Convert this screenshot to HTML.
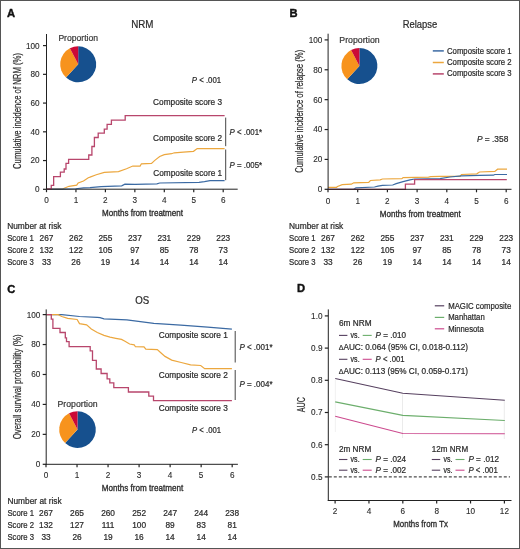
<!DOCTYPE html>
<html><head><meta charset="utf-8"><style>
html,body{margin:0;padding:0;background:#fff;}
#fig{position:relative;width:520px;height:549px;box-sizing:border-box;border:1px solid #555;overflow:hidden;background:#fff;}
svg{position:absolute;left:-1px;top:-1px;will-change:transform;}
text{font-family:"Liberation Sans", sans-serif;}
</style></head><body>
<div id="fig"><svg width="520" height="549" viewBox="0 0 520 549">
<text x="6.90" y="17.00" font-size="11.2" font-weight="bold" fill="#111" stroke="#111" stroke-width="0.4">A</text>
<text x="142.35" y="28.10" font-size="10.4" text-anchor="middle" textLength="22.3" lengthAdjust="spacingAndGlyphs" fill="#2b2b2b" stroke="#2b2b2b" stroke-width="0.22">NRM</text>
<line x1="43.00" y1="189.30" x2="46.50" y2="189.30" stroke="#222" stroke-width="1.2"/>
<text x="39.60" y="192.20" font-size="8.2" text-anchor="end" fill="#2b2b2b" stroke="#2b2b2b" stroke-width="0.12">0</text>
<line x1="43.00" y1="160.56" x2="46.50" y2="160.56" stroke="#222" stroke-width="1.2"/>
<text x="39.60" y="163.46" font-size="8.2" text-anchor="end" fill="#2b2b2b" stroke="#2b2b2b" stroke-width="0.12">20</text>
<line x1="43.00" y1="131.82" x2="46.50" y2="131.82" stroke="#222" stroke-width="1.2"/>
<text x="39.60" y="134.72" font-size="8.2" text-anchor="end" fill="#2b2b2b" stroke="#2b2b2b" stroke-width="0.12">40</text>
<line x1="43.00" y1="103.08" x2="46.50" y2="103.08" stroke="#222" stroke-width="1.2"/>
<text x="39.60" y="105.98" font-size="8.2" text-anchor="end" fill="#2b2b2b" stroke="#2b2b2b" stroke-width="0.12">60</text>
<line x1="43.00" y1="74.34" x2="46.50" y2="74.34" stroke="#222" stroke-width="1.2"/>
<text x="39.60" y="77.24" font-size="8.2" text-anchor="end" fill="#2b2b2b" stroke="#2b2b2b" stroke-width="0.12">80</text>
<line x1="43.00" y1="45.60" x2="46.50" y2="45.60" stroke="#222" stroke-width="1.2"/>
<text x="39.60" y="48.50" font-size="8.2" text-anchor="end" fill="#2b2b2b" stroke="#2b2b2b" stroke-width="0.12">100</text>
<line x1="46.50" y1="189.20" x2="46.50" y2="192.20" stroke="#222" stroke-width="1.2"/>
<text x="46.50" y="203.10" font-size="8.2" text-anchor="middle" fill="#2b2b2b" stroke="#2b2b2b" stroke-width="0.12">0</text>
<line x1="75.95" y1="189.20" x2="75.95" y2="192.20" stroke="#222" stroke-width="1.2"/>
<text x="75.95" y="203.10" font-size="8.2" text-anchor="middle" fill="#2b2b2b" stroke="#2b2b2b" stroke-width="0.12">1</text>
<line x1="105.40" y1="189.20" x2="105.40" y2="192.20" stroke="#222" stroke-width="1.2"/>
<text x="105.40" y="203.10" font-size="8.2" text-anchor="middle" fill="#2b2b2b" stroke="#2b2b2b" stroke-width="0.12">2</text>
<line x1="134.85" y1="189.20" x2="134.85" y2="192.20" stroke="#222" stroke-width="1.2"/>
<text x="134.85" y="203.10" font-size="8.2" text-anchor="middle" fill="#2b2b2b" stroke="#2b2b2b" stroke-width="0.12">3</text>
<line x1="164.30" y1="189.20" x2="164.30" y2="192.20" stroke="#222" stroke-width="1.2"/>
<text x="164.30" y="203.10" font-size="8.2" text-anchor="middle" fill="#2b2b2b" stroke="#2b2b2b" stroke-width="0.12">4</text>
<line x1="193.75" y1="189.20" x2="193.75" y2="192.20" stroke="#222" stroke-width="1.2"/>
<text x="193.75" y="203.10" font-size="8.2" text-anchor="middle" fill="#2b2b2b" stroke="#2b2b2b" stroke-width="0.12">5</text>
<line x1="223.20" y1="189.20" x2="223.20" y2="192.20" stroke="#222" stroke-width="1.2"/>
<text x="223.20" y="203.10" font-size="8.2" text-anchor="middle" fill="#2b2b2b" stroke="#2b2b2b" stroke-width="0.12">6</text>
<text transform="translate(21.30,111.00) rotate(-90)" x="0" y="0" font-size="10.3" text-anchor="middle" textLength="116" lengthAdjust="spacingAndGlyphs" fill="#2b2b2b" stroke="#2b2b2b" stroke-width="0.22">Cumulative incidence of NRM (%)</text>
<text x="102.00" y="215.90" font-size="9.9" textLength="81.0" lengthAdjust="spacingAndGlyphs" fill="#2b2b2b" stroke="#2b2b2b" stroke-width="0.35">Months from treatment</text>
<text x="58.40" y="41.00" font-size="8.8" textLength="39.6" lengthAdjust="spacingAndGlyphs" fill="#383838" stroke="#383838" stroke-width="0.22">Proportion</text>
<path d="M78.20,64.30 L78.20,46.30 A18,18 0 1 1 66.04,77.57 Z" fill="#16508e"/>
<path d="M78.20,64.30 L66.04,77.57 A18,18 0 0 1 69.89,48.33 Z" fill="#f7931d"/>
<path d="M78.20,64.30 L69.89,48.33 A18,18 0 0 1 78.20,46.30 Z" fill="#cc0a36"/>
<path d="M46.50,189.20 L62.30,189.20 L64.20,188.30 L69.00,186.30 L76.70,185.20 L78.20,183.00 L83.50,181.00 L88.30,177.70 L90.00,177.10 L96.30,174.70 L104.30,172.40 L118.50,171.60 L126.50,168.70 L132.80,166.00 L140.10,166.10 L141.40,163.80 L151.50,163.40 L155.10,160.10 L159.70,156.50 L164.30,154.60 L171.60,153.70 L174.30,152.80 L183.40,152.10 L193.50,151.30 L197.20,148.60 L224.60,148.60" fill="none" stroke="#eca73e" stroke-width="1.2" stroke-linejoin="miter"/>
<path d="M46.50,189.20 L62.00,189.20 L75.80,188.75 L83.50,187.80 L90.00,187.70 L101.10,186.60 L121.70,185.80 L124.90,184.20 L135.00,184.30 L156.90,183.90 L159.70,183.00 L199.00,182.40 L204.50,181.70 L210.00,180.60 L224.60,180.60" fill="none" stroke="#3b6aa3" stroke-width="1.2" stroke-linejoin="miter"/>
<path d="M46.50,189.20 L51.25,189.20 L51.25,185.40 L53.65,185.40 L53.65,176.70 L60.40,176.70 L60.40,172.10 L64.20,172.10 L64.20,169.00 L66.00,169.00 L66.00,163.30 L68.60,163.30 L68.60,159.40 L88.75,159.40 L88.75,155.00 L91.90,155.00 L91.90,146.50 L94.40,146.50 L94.40,137.50 L98.20,137.50 L98.20,133.20 L104.30,133.20 L104.30,129.10 L107.10,129.10 L107.10,124.30 L111.40,124.30 L111.40,120.10 L125.20,120.10 L125.20,115.60 L224.60,115.60" fill="none" stroke="#b8466c" stroke-width="1.3" stroke-linejoin="miter"/>
<text x="191.80" y="82.70" font-size="8.3" textLength="29.3" lengthAdjust="spacingAndGlyphs" fill="#2b2b2b" stroke="#2b2b2b" stroke-width="0.22"><tspan font-style="italic">P</tspan> &lt; .001</text>
<text x="153.10" y="105.30" font-size="8.3" textLength="68.9" lengthAdjust="spacingAndGlyphs" fill="#2b2b2b" stroke="#2b2b2b" stroke-width="0.22">Composite score 3</text>
<text x="153.10" y="140.80" font-size="8.3" textLength="68.9" lengthAdjust="spacingAndGlyphs" fill="#2b2b2b" stroke="#2b2b2b" stroke-width="0.22">Composite score 2</text>
<text x="153.30" y="176.40" font-size="8.3" textLength="68.9" lengthAdjust="spacingAndGlyphs" fill="#2b2b2b" stroke="#2b2b2b" stroke-width="0.22">Composite score 1</text>
<line x1="225.70" y1="117.60" x2="225.70" y2="146.20" stroke="#444" stroke-width="1"/>
<line x1="225.70" y1="149.50" x2="225.70" y2="180.20" stroke="#444" stroke-width="1"/>
<text x="229.60" y="135.20" font-size="8.3" textLength="32.5" lengthAdjust="spacingAndGlyphs" fill="#2b2b2b" stroke="#2b2b2b" stroke-width="0.22"><tspan font-style="italic">P</tspan> &lt; .001*</text>
<text x="229.60" y="167.60" font-size="8.3" textLength="32.5" lengthAdjust="spacingAndGlyphs" fill="#2b2b2b" stroke="#2b2b2b" stroke-width="0.22"><tspan font-style="italic">P</tspan> = .005*</text>
<text x="7.20" y="228.60" font-size="8.3" textLength="54.3" lengthAdjust="spacingAndGlyphs" fill="#2b2b2b" stroke="#2b2b2b" stroke-width="0.22">Number at risk</text>
<text x="7.20" y="240.60" font-size="8.3" textLength="26.6" lengthAdjust="spacingAndGlyphs" fill="#2b2b2b" stroke="#2b2b2b" stroke-width="0.22">Score 1</text>
<text x="46.50" y="240.60" font-size="8.3" text-anchor="middle" fill="#2b2b2b" stroke="#2b2b2b" stroke-width="0.22">267</text>
<text x="75.95" y="240.60" font-size="8.3" text-anchor="middle" fill="#2b2b2b" stroke="#2b2b2b" stroke-width="0.22">262</text>
<text x="105.40" y="240.60" font-size="8.3" text-anchor="middle" fill="#2b2b2b" stroke="#2b2b2b" stroke-width="0.22">255</text>
<text x="134.85" y="240.60" font-size="8.3" text-anchor="middle" fill="#2b2b2b" stroke="#2b2b2b" stroke-width="0.22">237</text>
<text x="164.30" y="240.60" font-size="8.3" text-anchor="middle" fill="#2b2b2b" stroke="#2b2b2b" stroke-width="0.22">231</text>
<text x="193.75" y="240.60" font-size="8.3" text-anchor="middle" fill="#2b2b2b" stroke="#2b2b2b" stroke-width="0.22">229</text>
<text x="223.20" y="240.60" font-size="8.3" text-anchor="middle" fill="#2b2b2b" stroke="#2b2b2b" stroke-width="0.22">223</text>
<text x="7.20" y="252.80" font-size="8.3" textLength="26.6" lengthAdjust="spacingAndGlyphs" fill="#2b2b2b" stroke="#2b2b2b" stroke-width="0.22">Score 2</text>
<text x="46.50" y="252.80" font-size="8.3" text-anchor="middle" fill="#2b2b2b" stroke="#2b2b2b" stroke-width="0.22">132</text>
<text x="75.95" y="252.80" font-size="8.3" text-anchor="middle" fill="#2b2b2b" stroke="#2b2b2b" stroke-width="0.22">122</text>
<text x="105.40" y="252.80" font-size="8.3" text-anchor="middle" fill="#2b2b2b" stroke="#2b2b2b" stroke-width="0.22">105</text>
<text x="134.85" y="252.80" font-size="8.3" text-anchor="middle" fill="#2b2b2b" stroke="#2b2b2b" stroke-width="0.22">97</text>
<text x="164.30" y="252.80" font-size="8.3" text-anchor="middle" fill="#2b2b2b" stroke="#2b2b2b" stroke-width="0.22">85</text>
<text x="193.75" y="252.80" font-size="8.3" text-anchor="middle" fill="#2b2b2b" stroke="#2b2b2b" stroke-width="0.22">78</text>
<text x="223.20" y="252.80" font-size="8.3" text-anchor="middle" fill="#2b2b2b" stroke="#2b2b2b" stroke-width="0.22">73</text>
<text x="7.20" y="264.80" font-size="8.3" textLength="26.6" lengthAdjust="spacingAndGlyphs" fill="#2b2b2b" stroke="#2b2b2b" stroke-width="0.22">Score 3</text>
<text x="46.50" y="264.80" font-size="8.3" text-anchor="middle" fill="#2b2b2b" stroke="#2b2b2b" stroke-width="0.22">33</text>
<text x="75.95" y="264.80" font-size="8.3" text-anchor="middle" fill="#2b2b2b" stroke="#2b2b2b" stroke-width="0.22">26</text>
<text x="105.40" y="264.80" font-size="8.3" text-anchor="middle" fill="#2b2b2b" stroke="#2b2b2b" stroke-width="0.22">19</text>
<text x="134.85" y="264.80" font-size="8.3" text-anchor="middle" fill="#2b2b2b" stroke="#2b2b2b" stroke-width="0.22">14</text>
<text x="164.30" y="264.80" font-size="8.3" text-anchor="middle" fill="#2b2b2b" stroke="#2b2b2b" stroke-width="0.22">14</text>
<text x="193.75" y="264.80" font-size="8.3" text-anchor="middle" fill="#2b2b2b" stroke="#2b2b2b" stroke-width="0.22">14</text>
<text x="223.20" y="264.80" font-size="8.3" text-anchor="middle" fill="#2b2b2b" stroke="#2b2b2b" stroke-width="0.22">14</text>
<text x="289.50" y="16.90" font-size="11.2" font-weight="bold" fill="#111" stroke="#111" stroke-width="0.4">B</text>
<text x="420.00" y="28.20" font-size="10.4" text-anchor="middle" textLength="34.6" lengthAdjust="spacingAndGlyphs" fill="#2b2b2b" stroke="#2b2b2b" stroke-width="0.22">Relapse</text>
<line x1="324.60" y1="189.30" x2="328.10" y2="189.30" stroke="#222" stroke-width="1.2"/>
<text x="322.30" y="192.20" font-size="8.2" text-anchor="end" fill="#2b2b2b" stroke="#2b2b2b" stroke-width="0.12">0</text>
<line x1="324.60" y1="159.42" x2="328.10" y2="159.42" stroke="#222" stroke-width="1.2"/>
<text x="322.30" y="162.32" font-size="8.2" text-anchor="end" fill="#2b2b2b" stroke="#2b2b2b" stroke-width="0.12">20</text>
<line x1="324.60" y1="129.54" x2="328.10" y2="129.54" stroke="#222" stroke-width="1.2"/>
<text x="322.30" y="132.44" font-size="8.2" text-anchor="end" fill="#2b2b2b" stroke="#2b2b2b" stroke-width="0.12">40</text>
<line x1="324.60" y1="99.66" x2="328.10" y2="99.66" stroke="#222" stroke-width="1.2"/>
<text x="322.30" y="102.56" font-size="8.2" text-anchor="end" fill="#2b2b2b" stroke="#2b2b2b" stroke-width="0.12">60</text>
<line x1="324.60" y1="69.78" x2="328.10" y2="69.78" stroke="#222" stroke-width="1.2"/>
<text x="322.30" y="72.68" font-size="8.2" text-anchor="end" fill="#2b2b2b" stroke="#2b2b2b" stroke-width="0.12">80</text>
<line x1="324.60" y1="39.90" x2="328.10" y2="39.90" stroke="#222" stroke-width="1.2"/>
<text x="322.30" y="42.80" font-size="8.2" text-anchor="end" fill="#2b2b2b" stroke="#2b2b2b" stroke-width="0.12">100</text>
<line x1="328.00" y1="189.30" x2="328.00" y2="192.30" stroke="#222" stroke-width="1.2"/>
<text x="328.00" y="203.60" font-size="8.2" text-anchor="middle" fill="#2b2b2b" stroke="#2b2b2b" stroke-width="0.12">0</text>
<line x1="357.70" y1="189.30" x2="357.70" y2="192.30" stroke="#222" stroke-width="1.2"/>
<text x="357.70" y="203.60" font-size="8.2" text-anchor="middle" fill="#2b2b2b" stroke="#2b2b2b" stroke-width="0.12">1</text>
<line x1="387.40" y1="189.30" x2="387.40" y2="192.30" stroke="#222" stroke-width="1.2"/>
<text x="387.40" y="203.60" font-size="8.2" text-anchor="middle" fill="#2b2b2b" stroke="#2b2b2b" stroke-width="0.12">2</text>
<line x1="417.10" y1="189.30" x2="417.10" y2="192.30" stroke="#222" stroke-width="1.2"/>
<text x="417.10" y="203.60" font-size="8.2" text-anchor="middle" fill="#2b2b2b" stroke="#2b2b2b" stroke-width="0.12">3</text>
<line x1="446.80" y1="189.30" x2="446.80" y2="192.30" stroke="#222" stroke-width="1.2"/>
<text x="446.80" y="203.60" font-size="8.2" text-anchor="middle" fill="#2b2b2b" stroke="#2b2b2b" stroke-width="0.12">4</text>
<line x1="476.50" y1="189.30" x2="476.50" y2="192.30" stroke="#222" stroke-width="1.2"/>
<text x="476.50" y="203.60" font-size="8.2" text-anchor="middle" fill="#2b2b2b" stroke="#2b2b2b" stroke-width="0.12">5</text>
<line x1="506.20" y1="189.30" x2="506.20" y2="192.30" stroke="#222" stroke-width="1.2"/>
<text x="506.20" y="203.60" font-size="8.2" text-anchor="middle" fill="#2b2b2b" stroke="#2b2b2b" stroke-width="0.12">6</text>
<text transform="translate(302.80,111.30) rotate(-90)" x="0" y="0" font-size="10.3" text-anchor="middle" textLength="123" lengthAdjust="spacingAndGlyphs" fill="#2b2b2b" stroke="#2b2b2b" stroke-width="0.22">Cumulative incidence of relapse (%)</text>
<text x="379.80" y="216.60" font-size="9.9" textLength="81.0" lengthAdjust="spacingAndGlyphs" fill="#2b2b2b" stroke="#2b2b2b" stroke-width="0.35">Months from treatment</text>
<text x="339.30" y="42.90" font-size="8.8" textLength="40.4" lengthAdjust="spacingAndGlyphs" fill="#383838" stroke="#383838" stroke-width="0.22">Proportion</text>
<path d="M359.40,66.00 L359.40,48.00 A18,18 0 1 1 347.24,79.27 Z" fill="#16508e"/>
<path d="M359.40,66.00 L347.24,79.27 A18,18 0 0 1 351.09,50.03 Z" fill="#f7931d"/>
<path d="M359.40,66.00 L351.09,50.03 A18,18 0 0 1 359.40,48.00 Z" fill="#cc0a36"/>
<line x1="432.80" y1="50.90" x2="443.80" y2="50.90" stroke="#3b6aa3" stroke-width="1.5"/>
<text x="447.00" y="53.50" font-size="8.2" textLength="64.6" lengthAdjust="spacingAndGlyphs" fill="#2b2b2b" stroke="#2b2b2b" stroke-width="0.22">Composite score 1</text>
<line x1="432.80" y1="62.50" x2="443.80" y2="62.50" stroke="#eca73e" stroke-width="1.5"/>
<text x="447.00" y="64.90" font-size="8.2" textLength="64.6" lengthAdjust="spacingAndGlyphs" fill="#2b2b2b" stroke="#2b2b2b" stroke-width="0.22">Composite score 2</text>
<line x1="432.80" y1="73.90" x2="443.80" y2="73.90" stroke="#b8466c" stroke-width="1.5"/>
<text x="447.00" y="76.20" font-size="8.2" textLength="64.6" lengthAdjust="spacingAndGlyphs" fill="#2b2b2b" stroke="#2b2b2b" stroke-width="0.22">Composite score 3</text>
<text x="476.90" y="142.20" font-size="8.3" textLength="31.4" lengthAdjust="spacingAndGlyphs" fill="#2b2b2b" stroke="#2b2b2b" stroke-width="0.22"><tspan font-style="italic">P</tspan> = .358</text>
<path d="M328.10,187.30 L336.50,187.30 L337.50,186.50 L342.20,184.70 L351.40,184.20 L353.70,182.80 L368.70,182.40 L370.40,180.50 L380.20,179.90 L382.50,179.00 L401.90,178.60 L403.10,177.60 L428.50,177.20 L430.80,176.70 L440.00,176.40 L460.00,176.40 L461.50,174.50 L476.80,173.80 L479.50,172.00 L494.80,171.40 L497.60,169.20 L507.00,169.20" fill="none" stroke="#eca73e" stroke-width="1.2" stroke-linejoin="miter"/>
<path d="M328.10,189.30 L353.70,189.30 L356.00,187.80 L374.50,187.00 L378.00,186.20 L382.50,185.30 L392.70,185.00 L396.20,183.60 L403.10,181.60 L410.00,179.80 L414.60,179.00 L440.00,178.60 L450.00,177.00 L461.50,175.90 L479.50,175.40 L493.40,175.20 L494.80,174.50 L507.00,174.50" fill="none" stroke="#3b6aa3" stroke-width="1.2" stroke-linejoin="miter"/>
<path d="M328.10,189.30 L405.40,189.30 L405.40,184.20 L414.60,184.20 L414.60,179.70 L506.80,179.70" fill="none" stroke="#b8466c" stroke-width="1.3" stroke-linejoin="miter"/>
<text x="289.00" y="228.70" font-size="8.3" textLength="54.3" lengthAdjust="spacingAndGlyphs" fill="#2b2b2b" stroke="#2b2b2b" stroke-width="0.22">Number at risk</text>
<text x="289.00" y="240.80" font-size="8.3" textLength="26.6" lengthAdjust="spacingAndGlyphs" fill="#2b2b2b" stroke="#2b2b2b" stroke-width="0.22">Score 1</text>
<text x="328.00" y="240.80" font-size="8.3" text-anchor="middle" fill="#2b2b2b" stroke="#2b2b2b" stroke-width="0.22">267</text>
<text x="357.70" y="240.80" font-size="8.3" text-anchor="middle" fill="#2b2b2b" stroke="#2b2b2b" stroke-width="0.22">262</text>
<text x="387.40" y="240.80" font-size="8.3" text-anchor="middle" fill="#2b2b2b" stroke="#2b2b2b" stroke-width="0.22">255</text>
<text x="417.10" y="240.80" font-size="8.3" text-anchor="middle" fill="#2b2b2b" stroke="#2b2b2b" stroke-width="0.22">237</text>
<text x="446.80" y="240.80" font-size="8.3" text-anchor="middle" fill="#2b2b2b" stroke="#2b2b2b" stroke-width="0.22">231</text>
<text x="476.50" y="240.80" font-size="8.3" text-anchor="middle" fill="#2b2b2b" stroke="#2b2b2b" stroke-width="0.22">229</text>
<text x="506.20" y="240.80" font-size="8.3" text-anchor="middle" fill="#2b2b2b" stroke="#2b2b2b" stroke-width="0.22">223</text>
<text x="289.00" y="252.90" font-size="8.3" textLength="26.6" lengthAdjust="spacingAndGlyphs" fill="#2b2b2b" stroke="#2b2b2b" stroke-width="0.22">Score 2</text>
<text x="328.00" y="252.90" font-size="8.3" text-anchor="middle" fill="#2b2b2b" stroke="#2b2b2b" stroke-width="0.22">132</text>
<text x="357.70" y="252.90" font-size="8.3" text-anchor="middle" fill="#2b2b2b" stroke="#2b2b2b" stroke-width="0.22">122</text>
<text x="387.40" y="252.90" font-size="8.3" text-anchor="middle" fill="#2b2b2b" stroke="#2b2b2b" stroke-width="0.22">105</text>
<text x="417.10" y="252.90" font-size="8.3" text-anchor="middle" fill="#2b2b2b" stroke="#2b2b2b" stroke-width="0.22">97</text>
<text x="446.80" y="252.90" font-size="8.3" text-anchor="middle" fill="#2b2b2b" stroke="#2b2b2b" stroke-width="0.22">85</text>
<text x="476.50" y="252.90" font-size="8.3" text-anchor="middle" fill="#2b2b2b" stroke="#2b2b2b" stroke-width="0.22">78</text>
<text x="506.20" y="252.90" font-size="8.3" text-anchor="middle" fill="#2b2b2b" stroke="#2b2b2b" stroke-width="0.22">73</text>
<text x="289.00" y="264.70" font-size="8.3" textLength="26.6" lengthAdjust="spacingAndGlyphs" fill="#2b2b2b" stroke="#2b2b2b" stroke-width="0.22">Score 3</text>
<text x="328.00" y="264.70" font-size="8.3" text-anchor="middle" fill="#2b2b2b" stroke="#2b2b2b" stroke-width="0.22">33</text>
<text x="357.70" y="264.70" font-size="8.3" text-anchor="middle" fill="#2b2b2b" stroke="#2b2b2b" stroke-width="0.22">26</text>
<text x="387.40" y="264.70" font-size="8.3" text-anchor="middle" fill="#2b2b2b" stroke="#2b2b2b" stroke-width="0.22">19</text>
<text x="417.10" y="264.70" font-size="8.3" text-anchor="middle" fill="#2b2b2b" stroke="#2b2b2b" stroke-width="0.22">14</text>
<text x="446.80" y="264.70" font-size="8.3" text-anchor="middle" fill="#2b2b2b" stroke="#2b2b2b" stroke-width="0.22">14</text>
<text x="476.50" y="264.70" font-size="8.3" text-anchor="middle" fill="#2b2b2b" stroke="#2b2b2b" stroke-width="0.22">14</text>
<text x="506.20" y="264.70" font-size="8.3" text-anchor="middle" fill="#2b2b2b" stroke="#2b2b2b" stroke-width="0.22">14</text>
<text x="7.20" y="292.50" font-size="11.2" font-weight="bold" fill="#111" stroke="#111" stroke-width="0.4">C</text>
<text x="142.30" y="303.60" font-size="10.4" text-anchor="middle" textLength="14.0" lengthAdjust="spacingAndGlyphs" fill="#2b2b2b" stroke="#2b2b2b" stroke-width="0.22">OS</text>
<line x1="42.70" y1="464.30" x2="46.20" y2="464.30" stroke="#222" stroke-width="1.2"/>
<text x="40.40" y="467.20" font-size="8.2" text-anchor="end" fill="#2b2b2b" stroke="#2b2b2b" stroke-width="0.12">0</text>
<line x1="42.70" y1="434.36" x2="46.20" y2="434.36" stroke="#222" stroke-width="1.2"/>
<text x="40.40" y="437.26" font-size="8.2" text-anchor="end" fill="#2b2b2b" stroke="#2b2b2b" stroke-width="0.12">20</text>
<line x1="42.70" y1="404.42" x2="46.20" y2="404.42" stroke="#222" stroke-width="1.2"/>
<text x="40.40" y="407.32" font-size="8.2" text-anchor="end" fill="#2b2b2b" stroke="#2b2b2b" stroke-width="0.12">40</text>
<line x1="42.70" y1="374.48" x2="46.20" y2="374.48" stroke="#222" stroke-width="1.2"/>
<text x="40.40" y="377.38" font-size="8.2" text-anchor="end" fill="#2b2b2b" stroke="#2b2b2b" stroke-width="0.12">60</text>
<line x1="42.70" y1="344.54" x2="46.20" y2="344.54" stroke="#222" stroke-width="1.2"/>
<text x="40.40" y="347.44" font-size="8.2" text-anchor="end" fill="#2b2b2b" stroke="#2b2b2b" stroke-width="0.12">80</text>
<line x1="42.70" y1="314.60" x2="46.20" y2="314.60" stroke="#222" stroke-width="1.2"/>
<text x="40.40" y="317.50" font-size="8.2" text-anchor="end" fill="#2b2b2b" stroke="#2b2b2b" stroke-width="0.12">100</text>
<line x1="46.00" y1="464.30" x2="46.00" y2="467.30" stroke="#222" stroke-width="1.2"/>
<text x="46.00" y="477.80" font-size="8.2" text-anchor="middle" fill="#2b2b2b" stroke="#2b2b2b" stroke-width="0.12">0</text>
<line x1="77.03" y1="464.30" x2="77.03" y2="467.30" stroke="#222" stroke-width="1.2"/>
<text x="77.03" y="477.80" font-size="8.2" text-anchor="middle" fill="#2b2b2b" stroke="#2b2b2b" stroke-width="0.12">1</text>
<line x1="108.06" y1="464.30" x2="108.06" y2="467.30" stroke="#222" stroke-width="1.2"/>
<text x="108.06" y="477.80" font-size="8.2" text-anchor="middle" fill="#2b2b2b" stroke="#2b2b2b" stroke-width="0.12">2</text>
<line x1="139.09" y1="464.30" x2="139.09" y2="467.30" stroke="#222" stroke-width="1.2"/>
<text x="139.09" y="477.80" font-size="8.2" text-anchor="middle" fill="#2b2b2b" stroke="#2b2b2b" stroke-width="0.12">3</text>
<line x1="170.12" y1="464.30" x2="170.12" y2="467.30" stroke="#222" stroke-width="1.2"/>
<text x="170.12" y="477.80" font-size="8.2" text-anchor="middle" fill="#2b2b2b" stroke="#2b2b2b" stroke-width="0.12">4</text>
<line x1="201.15" y1="464.30" x2="201.15" y2="467.30" stroke="#222" stroke-width="1.2"/>
<text x="201.15" y="477.80" font-size="8.2" text-anchor="middle" fill="#2b2b2b" stroke="#2b2b2b" stroke-width="0.12">5</text>
<line x1="232.18" y1="464.30" x2="232.18" y2="467.30" stroke="#222" stroke-width="1.2"/>
<text x="232.18" y="477.80" font-size="8.2" text-anchor="middle" fill="#2b2b2b" stroke="#2b2b2b" stroke-width="0.12">6</text>
<text transform="translate(20.90,386.80) rotate(-90)" x="0" y="0" font-size="10.3" text-anchor="middle" textLength="104.8" lengthAdjust="spacingAndGlyphs" fill="#2b2b2b" stroke="#2b2b2b" stroke-width="0.22">Overall survival probability (%)</text>
<text x="101.80" y="491.20" font-size="9.9" textLength="81.4" lengthAdjust="spacingAndGlyphs" fill="#2b2b2b" stroke="#2b2b2b" stroke-width="0.35">Months from treatment</text>
<text x="57.50" y="406.90" font-size="8.8" textLength="40.2" lengthAdjust="spacingAndGlyphs" fill="#383838" stroke="#383838" stroke-width="0.22">Proportion</text>
<path d="M77.50,429.60 L77.50,411.30 A18.3,18.3 0 1 1 65.14,443.09 Z" fill="#16508e"/>
<path d="M77.50,429.60 L65.14,443.09 A18.3,18.3 0 0 1 69.05,413.37 Z" fill="#f7931d"/>
<path d="M77.50,429.60 L69.05,413.37 A18.3,18.3 0 0 1 77.50,411.30 Z" fill="#cc0a36"/>
<path d="M46.20,314.60 L61.80,314.60 L79.50,316.50 L97.30,317.30 L100.00,317.70 L104.00,318.90 L126.90,319.80 L153.80,323.30 L180.80,325.20 L207.70,327.10 L231.90,329.20" fill="none" stroke="#3b6aa3" stroke-width="1.2" stroke-linejoin="miter"/>
<path d="M46.20,314.60 L58.20,314.60 L61.80,316.50 L67.70,318.30 L77.10,319.50 L79.50,323.60 L86.60,324.80 L91.30,328.90 L97.30,332.50 L104.00,335.40 L110.00,337.10 L115.80,338.30 L121.50,339.40 L125.00,341.20 L129.60,344.00 L134.20,344.80 L135.40,346.70 L144.00,346.90 L145.80,349.20 L157.30,349.60 L160.80,352.70 L165.00,356.40 L171.70,360.10 L181.20,362.50 L190.60,364.90 L200.70,365.50 L204.70,368.60 L231.90,368.60" fill="none" stroke="#eca73e" stroke-width="1.2" stroke-linejoin="miter"/>
<path d="M46.20,314.60 L51.30,314.60 L51.30,319.20 L52.90,319.20 L52.90,328.30 L60.00,328.30 L60.00,332.50 L65.30,332.50 L65.30,337.80 L66.50,337.80 L66.50,341.70 L69.10,341.70 L69.10,346.70 L90.20,346.70 L90.20,350.80 L92.50,350.80 L92.50,360.30 L96.30,360.30 L96.30,369.00 L101.10,369.00 L101.10,373.50 L107.10,373.50 L107.10,378.80 L109.80,378.80 L109.80,382.90 L113.80,382.90 L113.80,387.60 L128.40,387.60 L128.40,392.00 L148.80,392.00 L148.80,396.10 L153.50,396.10 L153.50,400.60 L231.90,400.60" fill="none" stroke="#b8466c" stroke-width="1.3" stroke-linejoin="miter"/>
<text x="158.70" y="337.80" font-size="8.3" textLength="69.2" lengthAdjust="spacingAndGlyphs" fill="#2b2b2b" stroke="#2b2b2b" stroke-width="0.22">Composite score 1</text>
<text x="158.70" y="377.70" font-size="8.3" textLength="69.2" lengthAdjust="spacingAndGlyphs" fill="#2b2b2b" stroke="#2b2b2b" stroke-width="0.22">Composite score 2</text>
<text x="158.70" y="410.50" font-size="8.3" textLength="69.2" lengthAdjust="spacingAndGlyphs" fill="#2b2b2b" stroke="#2b2b2b" stroke-width="0.22">Composite score 3</text>
<line x1="235.20" y1="331.00" x2="235.20" y2="362.50" stroke="#444" stroke-width="1"/>
<line x1="235.20" y1="370.00" x2="235.20" y2="400.00" stroke="#444" stroke-width="1"/>
<text x="239.40" y="350.00" font-size="8.3" textLength="33.1" lengthAdjust="spacingAndGlyphs" fill="#2b2b2b" stroke="#2b2b2b" stroke-width="0.22"><tspan font-style="italic">P</tspan> &lt; .001*</text>
<text x="239.40" y="387.20" font-size="8.3" textLength="33.1" lengthAdjust="spacingAndGlyphs" fill="#2b2b2b" stroke="#2b2b2b" stroke-width="0.22"><tspan font-style="italic">P</tspan> = .004*</text>
<text x="192.10" y="432.90" font-size="8.3" textLength="28.9" lengthAdjust="spacingAndGlyphs" fill="#2b2b2b" stroke="#2b2b2b" stroke-width="0.22"><tspan font-style="italic">P</tspan> &lt; .001</text>
<text x="7.40" y="503.80" font-size="8.3" textLength="54.3" lengthAdjust="spacingAndGlyphs" fill="#2b2b2b" stroke="#2b2b2b" stroke-width="0.22">Number at risk</text>
<text x="7.40" y="515.80" font-size="8.3" textLength="26.6" lengthAdjust="spacingAndGlyphs" fill="#2b2b2b" stroke="#2b2b2b" stroke-width="0.22">Score 1</text>
<text x="46.00" y="515.80" font-size="8.3" text-anchor="middle" fill="#2b2b2b" stroke="#2b2b2b" stroke-width="0.22">267</text>
<text x="77.03" y="515.80" font-size="8.3" text-anchor="middle" fill="#2b2b2b" stroke="#2b2b2b" stroke-width="0.22">265</text>
<text x="108.06" y="515.80" font-size="8.3" text-anchor="middle" fill="#2b2b2b" stroke="#2b2b2b" stroke-width="0.22">260</text>
<text x="139.09" y="515.80" font-size="8.3" text-anchor="middle" fill="#2b2b2b" stroke="#2b2b2b" stroke-width="0.22">252</text>
<text x="170.12" y="515.80" font-size="8.3" text-anchor="middle" fill="#2b2b2b" stroke="#2b2b2b" stroke-width="0.22">247</text>
<text x="201.15" y="515.80" font-size="8.3" text-anchor="middle" fill="#2b2b2b" stroke="#2b2b2b" stroke-width="0.22">244</text>
<text x="232.18" y="515.80" font-size="8.3" text-anchor="middle" fill="#2b2b2b" stroke="#2b2b2b" stroke-width="0.22">238</text>
<text x="7.40" y="527.70" font-size="8.3" textLength="26.6" lengthAdjust="spacingAndGlyphs" fill="#2b2b2b" stroke="#2b2b2b" stroke-width="0.22">Score 2</text>
<text x="46.00" y="527.70" font-size="8.3" text-anchor="middle" fill="#2b2b2b" stroke="#2b2b2b" stroke-width="0.22">132</text>
<text x="77.03" y="527.70" font-size="8.3" text-anchor="middle" fill="#2b2b2b" stroke="#2b2b2b" stroke-width="0.22">127</text>
<text x="108.06" y="527.70" font-size="8.3" text-anchor="middle" fill="#2b2b2b" stroke="#2b2b2b" stroke-width="0.22">111</text>
<text x="139.09" y="527.70" font-size="8.3" text-anchor="middle" fill="#2b2b2b" stroke="#2b2b2b" stroke-width="0.22">100</text>
<text x="170.12" y="527.70" font-size="8.3" text-anchor="middle" fill="#2b2b2b" stroke="#2b2b2b" stroke-width="0.22">89</text>
<text x="201.15" y="527.70" font-size="8.3" text-anchor="middle" fill="#2b2b2b" stroke="#2b2b2b" stroke-width="0.22">83</text>
<text x="232.18" y="527.70" font-size="8.3" text-anchor="middle" fill="#2b2b2b" stroke="#2b2b2b" stroke-width="0.22">81</text>
<text x="7.40" y="539.80" font-size="8.3" textLength="26.6" lengthAdjust="spacingAndGlyphs" fill="#2b2b2b" stroke="#2b2b2b" stroke-width="0.22">Score 3</text>
<text x="46.00" y="539.80" font-size="8.3" text-anchor="middle" fill="#2b2b2b" stroke="#2b2b2b" stroke-width="0.22">33</text>
<text x="77.03" y="539.80" font-size="8.3" text-anchor="middle" fill="#2b2b2b" stroke="#2b2b2b" stroke-width="0.22">26</text>
<text x="108.06" y="539.80" font-size="8.3" text-anchor="middle" fill="#2b2b2b" stroke="#2b2b2b" stroke-width="0.22">19</text>
<text x="139.09" y="539.80" font-size="8.3" text-anchor="middle" fill="#2b2b2b" stroke="#2b2b2b" stroke-width="0.22">16</text>
<text x="170.12" y="539.80" font-size="8.3" text-anchor="middle" fill="#2b2b2b" stroke="#2b2b2b" stroke-width="0.22">14</text>
<text x="201.15" y="539.80" font-size="8.3" text-anchor="middle" fill="#2b2b2b" stroke="#2b2b2b" stroke-width="0.22">14</text>
<text x="232.18" y="539.80" font-size="8.3" text-anchor="middle" fill="#2b2b2b" stroke="#2b2b2b" stroke-width="0.22">14</text>
<text x="297.10" y="292.30" font-size="11.2" font-weight="bold" fill="#111" stroke="#111" stroke-width="0.4">D</text>
<line x1="324.80" y1="476.90" x2="328.30" y2="476.90" stroke="#222" stroke-width="1.2"/>
<text x="322.50" y="479.80" font-size="8.2" text-anchor="end" fill="#2b2b2b" stroke="#2b2b2b" stroke-width="0.12">0.5</text>
<line x1="324.80" y1="444.70" x2="328.30" y2="444.70" stroke="#222" stroke-width="1.2"/>
<text x="322.50" y="447.60" font-size="8.2" text-anchor="end" fill="#2b2b2b" stroke="#2b2b2b" stroke-width="0.12">0.6</text>
<line x1="324.80" y1="412.50" x2="328.30" y2="412.50" stroke="#222" stroke-width="1.2"/>
<text x="322.50" y="415.40" font-size="8.2" text-anchor="end" fill="#2b2b2b" stroke="#2b2b2b" stroke-width="0.12">0.7</text>
<line x1="324.80" y1="380.30" x2="328.30" y2="380.30" stroke="#222" stroke-width="1.2"/>
<text x="322.50" y="383.20" font-size="8.2" text-anchor="end" fill="#2b2b2b" stroke="#2b2b2b" stroke-width="0.12">0.8</text>
<line x1="324.80" y1="348.10" x2="328.30" y2="348.10" stroke="#222" stroke-width="1.2"/>
<text x="322.50" y="351.00" font-size="8.2" text-anchor="end" fill="#2b2b2b" stroke="#2b2b2b" stroke-width="0.12">0.9</text>
<line x1="324.80" y1="315.90" x2="328.30" y2="315.90" stroke="#222" stroke-width="1.2"/>
<text x="322.50" y="318.80" font-size="8.2" text-anchor="end" fill="#2b2b2b" stroke="#2b2b2b" stroke-width="0.12">1.0</text>
<line x1="335.10" y1="500.50" x2="335.10" y2="503.50" stroke="#222" stroke-width="1.2"/>
<text x="335.10" y="513.90" font-size="8.2" text-anchor="middle" fill="#2b2b2b" stroke="#2b2b2b" stroke-width="0.12">2</text>
<line x1="368.96" y1="500.50" x2="368.96" y2="503.50" stroke="#222" stroke-width="1.2"/>
<text x="368.96" y="513.90" font-size="8.2" text-anchor="middle" fill="#2b2b2b" stroke="#2b2b2b" stroke-width="0.12">4</text>
<line x1="402.82" y1="500.50" x2="402.82" y2="503.50" stroke="#222" stroke-width="1.2"/>
<text x="402.82" y="513.90" font-size="8.2" text-anchor="middle" fill="#2b2b2b" stroke="#2b2b2b" stroke-width="0.12">6</text>
<line x1="436.68" y1="500.50" x2="436.68" y2="503.50" stroke="#222" stroke-width="1.2"/>
<text x="436.68" y="513.90" font-size="8.2" text-anchor="middle" fill="#2b2b2b" stroke="#2b2b2b" stroke-width="0.12">8</text>
<line x1="470.54" y1="500.50" x2="470.54" y2="503.50" stroke="#222" stroke-width="1.2"/>
<text x="470.54" y="513.90" font-size="8.2" text-anchor="middle" fill="#2b2b2b" stroke="#2b2b2b" stroke-width="0.12">10</text>
<line x1="504.40" y1="500.50" x2="504.40" y2="503.50" stroke="#222" stroke-width="1.2"/>
<text x="504.40" y="513.90" font-size="8.2" text-anchor="middle" fill="#2b2b2b" stroke="#2b2b2b" stroke-width="0.12">12</text>
<text transform="translate(305.20,404.70) rotate(-90)" x="0" y="0" font-size="10.6" text-anchor="middle" textLength="15.0" lengthAdjust="spacingAndGlyphs" fill="#2b2b2b" stroke="#2b2b2b" stroke-width="0.22">AUC</text>
<text x="393.30" y="527.30" font-size="9.9" textLength="54.6" lengthAdjust="spacingAndGlyphs" fill="#2b2b2b" stroke="#2b2b2b" stroke-width="0.35">Months from Tx</text>
<line x1="335.40" y1="380.00" x2="335.40" y2="432.00" stroke="#ededed" stroke-width="0.8"/>
<line x1="402.50" y1="394.50" x2="402.50" y2="438.00" stroke="#e6e6e6" stroke-width="0.8"/>
<line x1="504.30" y1="400.50" x2="504.30" y2="439.00" stroke="#e6e6e6" stroke-width="0.8"/>
<line x1="328.80" y1="476.90" x2="510.00" y2="476.90" stroke="#222" stroke-width="1" stroke-dasharray="3,2"/>
<path d="M335.20,378.50 L402.80,393.20 L504.80,400.30" fill="none" stroke="#56405f" stroke-width="1.1" stroke-linejoin="miter"/>
<path d="M335.20,401.90 L402.80,415.40 L504.80,420.50" fill="none" stroke="#6cae6c" stroke-width="1.1" stroke-linejoin="miter"/>
<path d="M335.20,416.20 L402.80,433.50 L504.80,433.80" fill="none" stroke="#cc4a8e" stroke-width="1.1" stroke-linejoin="miter"/>
<line x1="434.80" y1="305.80" x2="444.20" y2="305.80" stroke="#56405f" stroke-width="1.2"/>
<text x="448.20" y="308.70" font-size="8.3" textLength="63.1" lengthAdjust="spacingAndGlyphs" fill="#2b2b2b" stroke="#2b2b2b" stroke-width="0.22">MAGIC composite</text>
<line x1="434.80" y1="317.40" x2="444.20" y2="317.40" stroke="#6cae6c" stroke-width="1.2"/>
<text x="448.20" y="320.10" font-size="8.3" textLength="36.5" lengthAdjust="spacingAndGlyphs" fill="#2b2b2b" stroke="#2b2b2b" stroke-width="0.22">Manhattan</text>
<line x1="434.80" y1="328.80" x2="444.20" y2="328.80" stroke="#cc4a8e" stroke-width="1.2"/>
<text x="448.20" y="331.70" font-size="8.3" textLength="35.5" lengthAdjust="spacingAndGlyphs" fill="#2b2b2b" stroke="#2b2b2b" stroke-width="0.22">Minnesota</text>
<text x="339.00" y="325.70" font-size="8.3" textLength="32.5" lengthAdjust="spacingAndGlyphs" fill="#2b2b2b" stroke="#2b2b2b" stroke-width="0.22">6m NRM</text>
<line x1="339.00" y1="335.40" x2="347.40" y2="335.40" stroke="#56405f" stroke-width="1.1"/>
<text x="350.60" y="337.80" font-size="8.3" textLength="9.0" lengthAdjust="spacingAndGlyphs" fill="#2b2b2b" stroke="#2b2b2b" stroke-width="0.22">vs.</text>
<line x1="362.70" y1="335.40" x2="371.70" y2="335.40" stroke="#6cae6c" stroke-width="1.1"/>
<text x="375.60" y="337.80" font-size="8.3" textLength="30.3" lengthAdjust="spacingAndGlyphs" fill="#2b2b2b" stroke="#2b2b2b" stroke-width="0.22"><tspan font-style="italic">P</tspan> = .010</text>
<text x="338.70" y="349.60" font-size="8.3" textLength="129.4" lengthAdjust="spacingAndGlyphs" fill="#2b2b2b" stroke="#2b2b2b" stroke-width="0.22"><tspan font-size="7.2">Δ</tspan>AUC: 0.064 (95% CI, 0.018-0.112)</text>
<line x1="339.00" y1="359.30" x2="347.40" y2="359.30" stroke="#56405f" stroke-width="1.1"/>
<text x="350.60" y="361.70" font-size="8.3" textLength="9.0" lengthAdjust="spacingAndGlyphs" fill="#2b2b2b" stroke="#2b2b2b" stroke-width="0.22">vs.</text>
<line x1="362.70" y1="359.30" x2="371.70" y2="359.30" stroke="#cc4a8e" stroke-width="1.1"/>
<text x="375.60" y="361.70" font-size="8.3" textLength="29.0" lengthAdjust="spacingAndGlyphs" fill="#2b2b2b" stroke="#2b2b2b" stroke-width="0.22"><tspan font-style="italic">P</tspan> &lt; .001</text>
<text x="338.70" y="373.50" font-size="8.3" textLength="129.4" lengthAdjust="spacingAndGlyphs" fill="#2b2b2b" stroke="#2b2b2b" stroke-width="0.22"><tspan font-size="7.2">Δ</tspan>AUC: 0.113 (95% CI, 0.059-0.171)</text>
<text x="339.00" y="452.20" font-size="8.3" textLength="32.2" lengthAdjust="spacingAndGlyphs" fill="#2b2b2b" stroke="#2b2b2b" stroke-width="0.22">2m NRM</text>
<line x1="339.00" y1="459.50" x2="347.40" y2="459.50" stroke="#56405f" stroke-width="1.1"/>
<text x="350.60" y="461.90" font-size="8.3" textLength="9.0" lengthAdjust="spacingAndGlyphs" fill="#2b2b2b" stroke="#2b2b2b" stroke-width="0.22">vs.</text>
<line x1="362.70" y1="459.50" x2="371.70" y2="459.50" stroke="#6cae6c" stroke-width="1.1"/>
<text x="375.60" y="461.90" font-size="8.3" textLength="30.5" lengthAdjust="spacingAndGlyphs" fill="#2b2b2b" stroke="#2b2b2b" stroke-width="0.22"><tspan font-style="italic">P</tspan> = .024</text>
<line x1="339.00" y1="470.20" x2="347.40" y2="470.20" stroke="#56405f" stroke-width="1.1"/>
<text x="350.60" y="472.60" font-size="8.3" textLength="9.0" lengthAdjust="spacingAndGlyphs" fill="#2b2b2b" stroke="#2b2b2b" stroke-width="0.22">vs.</text>
<line x1="362.70" y1="470.20" x2="371.70" y2="470.20" stroke="#cc4a8e" stroke-width="1.1"/>
<text x="375.60" y="472.60" font-size="8.3" textLength="30.5" lengthAdjust="spacingAndGlyphs" fill="#2b2b2b" stroke="#2b2b2b" stroke-width="0.22"><tspan font-style="italic">P</tspan> = .002</text>
<text x="431.80" y="452.20" font-size="8.3" textLength="36.3" lengthAdjust="spacingAndGlyphs" fill="#2b2b2b" stroke="#2b2b2b" stroke-width="0.22">12m NRM</text>
<line x1="431.80" y1="459.50" x2="440.20" y2="459.50" stroke="#56405f" stroke-width="1.1"/>
<text x="443.40" y="461.90" font-size="8.3" textLength="9.0" lengthAdjust="spacingAndGlyphs" fill="#2b2b2b" stroke="#2b2b2b" stroke-width="0.22">vs.</text>
<line x1="455.50" y1="459.50" x2="464.50" y2="459.50" stroke="#6cae6c" stroke-width="1.1"/>
<text x="468.40" y="461.90" font-size="8.3" textLength="30.6" lengthAdjust="spacingAndGlyphs" fill="#2b2b2b" stroke="#2b2b2b" stroke-width="0.22"><tspan font-style="italic">P</tspan> = .012</text>
<line x1="431.80" y1="470.20" x2="440.20" y2="470.20" stroke="#56405f" stroke-width="1.1"/>
<text x="443.40" y="472.60" font-size="8.3" textLength="9.0" lengthAdjust="spacingAndGlyphs" fill="#2b2b2b" stroke="#2b2b2b" stroke-width="0.22">vs.</text>
<line x1="455.50" y1="470.20" x2="464.50" y2="470.20" stroke="#cc4a8e" stroke-width="1.1"/>
<text x="468.40" y="472.60" font-size="8.3" textLength="29.4" lengthAdjust="spacingAndGlyphs" fill="#2b2b2b" stroke="#2b2b2b" stroke-width="0.22"><tspan font-style="italic">P</tspan> &lt; .001</text>
<line x1="46.50" y1="34.00" x2="46.50" y2="189.70" stroke="#222" stroke-width="1"/>
<line x1="46.00" y1="189.20" x2="237.70" y2="189.20" stroke="#222" stroke-width="1"/>
<line x1="328.10" y1="33.70" x2="328.10" y2="189.80" stroke="#222" stroke-width="1"/>
<line x1="327.60" y1="189.30" x2="511.50" y2="189.30" stroke="#222" stroke-width="1"/>
<line x1="46.20" y1="309.40" x2="46.20" y2="464.80" stroke="#222" stroke-width="1"/>
<line x1="45.70" y1="464.30" x2="237.90" y2="464.30" stroke="#222" stroke-width="1"/>
<line x1="328.30" y1="309.40" x2="328.30" y2="501.00" stroke="#222" stroke-width="1"/>
<line x1="327.80" y1="500.50" x2="511.50" y2="500.50" stroke="#222" stroke-width="1"/>
</svg></div>
</body></html>
